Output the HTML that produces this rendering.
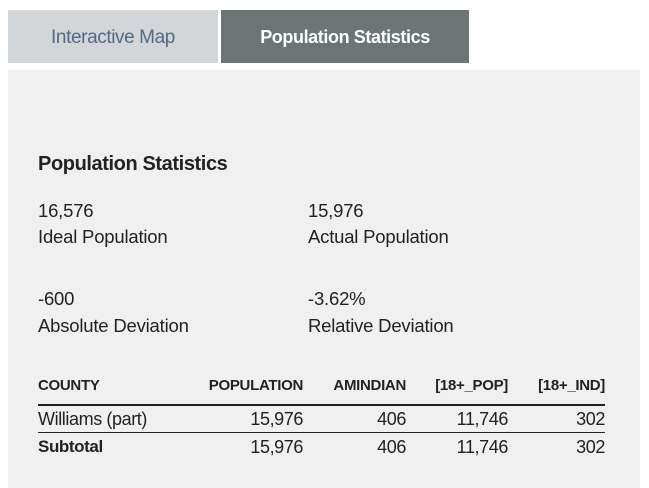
<!DOCTYPE html>
<html><head><meta charset="utf-8"><style>
body{margin:0;width:649px;height:488px;background:#fff;font-family:"Liberation Sans",sans-serif;position:relative;overflow:hidden;color:#222}
.a{position:absolute;white-space:nowrap}
.tab{position:absolute;top:10px;height:53px;line-height:55px;text-align:center;font-size:19px;letter-spacing:-0.4px}
.v{font-size:18.5px;letter-spacing:-0.2px}
.h{font-size:15px;font-weight:bold;letter-spacing:-0.3px}
.r{font-size:18px;letter-spacing:-0.4px}
</style></head><body>
<div class="tab" style="left:8px;width:210px;background:#d3d6d8;color:#4f6a87">Interactive Map</div>
<div class="tab" style="left:221px;width:248px;background:#6b7575;color:#fff;font-weight:bold;font-size:18px">Population Statistics</div>
<div class="a" style="left:8px;top:70px;width:632px;height:418px;background:#f0f0f0"></div>
<div class="a" style="left:38px;top:153px;font-size:20px;font-weight:bold;letter-spacing:-0.4px">Population Statistics</div>
<div class="a v" style="left:38px;top:200px">16,576</div>
<div class="a v" style="left:38px;top:226px">Ideal Population</div>
<div class="a v" style="left:308px;top:200px">15,976</div>
<div class="a v" style="left:308px;top:226px">Actual Population</div>
<div class="a v" style="left:38px;top:288px">-600</div>
<div class="a v" style="left:38px;top:315px">Absolute Deviation</div>
<div class="a v" style="left:308px;top:288px">-3.62%</div>
<div class="a v" style="left:308px;top:315px">Relative Deviation</div>
<div class="a h" style="left:38px;top:377px">COUNTY</div>
<div class="a h" style="right:346px;top:377px">POPULATION</div>
<div class="a h" style="right:243px;top:377px">AMINDIAN</div>
<div class="a h" style="right:141px;top:377px">[18+_POP]</div>
<div class="a h" style="right:44px;top:377px">[18+_IND]</div>
<div class="a" style="left:38px;top:404px;width:567px;height:2px;background:#222"></div>
<div class="a r" style="left:38px;top:409px">Williams (part)</div>
<div class="a r" style="right:346px;top:409px">15,976</div>
<div class="a r" style="right:243px;top:409px">406</div>
<div class="a r" style="right:141px;top:409px">11,746</div>
<div class="a r" style="right:44px;top:409px">302</div>
<div class="a" style="left:38px;top:432px;width:567px;height:1px;background:#222"></div>
<div class="a r" style="left:38px;top:437px;font-weight:bold;font-size:17px">Subtotal</div>
<div class="a r" style="right:346px;top:437px">15,976</div>
<div class="a r" style="right:243px;top:437px">406</div>
<div class="a r" style="right:141px;top:437px">11,746</div>
<div class="a r" style="right:44px;top:437px">302</div>
</body></html>
